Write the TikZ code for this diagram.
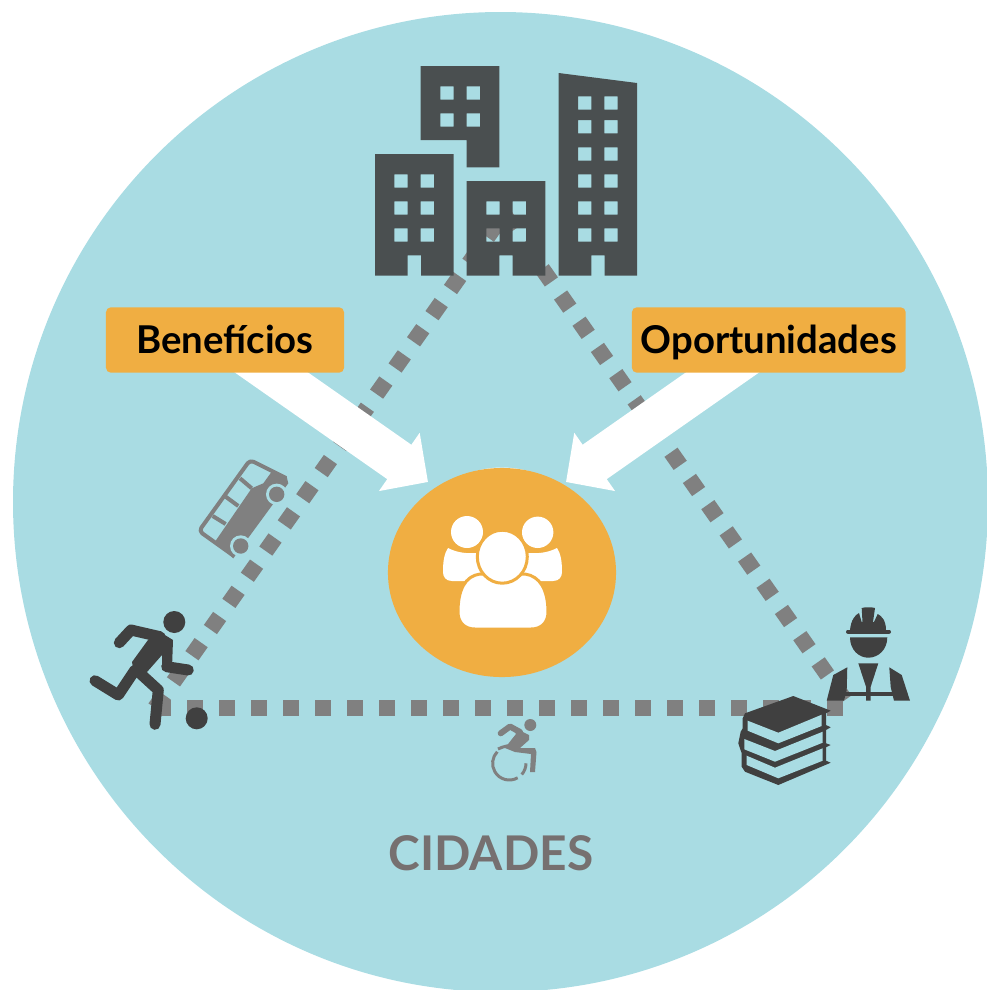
\documentclass[tikz,border=0pt]{standalone}
\usepackage{fontspec}
\setmainfont{Lato}
\usepackage{tikz}
\usetikzlibrary{arrows.meta}
\usetikzlibrary{shapes.geometric}
\pgfdeclarelayer{under}
\pgfsetlayers{under,main}
\definecolor{citybg}{HTML}{A9DCE3}
\definecolor{sand}{HTML}{F0AE42}
\definecolor{towergray}{HTML}{4A4F50}
\definecolor{icondark}{HTML}{404040}
\definecolor{routegray}{HTML}{808080}
\definecolor{titlegray}{HTML}{767070}
\tikzset{
	route/.style={draw=routegray, line width=0.16cm, dash pattern=on 0.16cm off 0.16cm},
	bigarrow/.style={draw=white, line width=0.42cm, -{Triangle[length=0.35cm,width=0.69cm,fill=white]}},
	labelbox/.style={fill=sand, rounded corners=0.05cm, minimum height=0.654cm, inner sep=0pt,
		text height=0.38cm, text depth=0.106cm,
		font=\fontsize{10.9}{13}\selectfont\bfseries, text=black},
	tower/.style={fill=towergray, even odd rule},
	limb/.style={draw=icondark, line width=0.11cm, line cap=round, line join=round},
	darkfill/.style={fill=icondark},
	grayfill/.style={fill=routegray},
	busline/.style={draw=routegray, line width=0.04cm, line join=round},
	wheelline/.style={draw=routegray, line width=0.03cm},
	pane/.style={fill=citybg},
	whitefill/.style={fill=white},
	ringed/.style={fill=white, draw=sand, line width=0.03cm},
}
\begin{document}
\begin{tikzpicture}[x=0.01cm, y=-0.01cm]
	\useasboundingbox (0,0) rectangle (987,990);
	\clip (0,0) rectangle (987,990);
	\coordinate (routeA) at (155,708);
	\coordinate (routeB) at (843,708);
	\coordinate (routeC) at (496,225);
	\coordinate (routeD) at (505.4,216.4);
	\coordinate (routeE) at (845,700);
	\coordinate (tipL) at (428,482);
	\coordinate (tipR) at (566,482);
	\node[labelbox, minimum width=2.38cm] (benefits) at (225,340) {Benefícios};
	\node[labelbox, minimum width=2.737cm] (chances) at (768.8,340) {Oportunidades};
	\node[ellipse, fill=sand, inner sep=0pt, minimum width=2.28cm, minimum height=2.09cm] (hub) at (502,572.5) {};
	\node[font=\fontsize{13.6}{17}\selectfont\bfseries, text=titlegray] (cityname) at (491,853) {CIDADES};
	\begin{pgfonlayer}{under}
		\fill[citybg] (500.5,502) ellipse [x radius=487.5, y radius=490];
		\draw[route] (routeA) -- (routeB);
		\draw[route] (routeA) -- (routeC);
		\draw[route] (routeD) -- (routeE);
		\draw[bigarrow] (benefits.center) -- (tipL);
		\draw[bigarrow] (chances.center) -- (tipR);
		\fill[white] (502,570.5) ellipse [x radius=100, y radius=103];
	\end{pgfonlayer}
	% towers
	\fill[tower] (420.7,66) -- (499.3,66) -- (499.3,167.3) -- (466.7,167.3) -- (466.7,140) -- (420.7,140) -- cycle
		\foreach \y in {86.3,113.3}{\foreach \x in {440.3,466.7}{(\x,\y) rectangle ++(13.4,13.4)}};
	\fill[tower] (375,154) -- (453.7,154) -- (453.7,275.7) -- (421,275.7) -- (421,255.3) -- (407.7,255.3) -- (407.7,275.7) -- (375,275.7) -- cycle
		\foreach \y in {174.3,201.3,228.3}{\foreach \x in {394.3,420.7}{(\x,\y) rectangle ++(13.4,13.4)}};
	\fill[tower] (466.7,181) -- (545.3,181) -- (545.3,275.7) -- (512.7,275.7) -- (512.7,255.3) -- (499.3,255.3) -- (499.3,275.7) -- (466.7,275.7) -- cycle
		\foreach \y in {201.3,228.3}{\foreach \x in {486.3,512.7}{(\x,\y) rectangle ++(13.4,13.4)}};
	\fill[tower] (558.7,73) -- (637,83) -- (637,275.7) -- (604.7,275.7) -- (604.7,255.3) -- (591.3,255.3) -- (591.3,275.7) -- (558.7,275.7) -- cycle
		\foreach \y in {96.3,120,147.3,174.3,201.3,228.3}{\foreach \x in {578,604.3}{(\x,\y) rectangle ++(13.4,13.4)}};
	% people
	\fill[whitefill] (467,532) circle [radius=16];
	\fill[whitefill] (537.7,532.3) circle [radius=15.7];
	\fill[whitefill] (448,548) .. controls (456,552) and (464,554) .. (480,553) -- (490,581) -- (452,581) .. controls (446,581) and (443,577) .. (443,572) .. controls (443,562) and (444,554) .. (448,548) -- cycle;
	\fill[whitefill] (557,548) .. controls (549,552) and (541,554) .. (525,553) -- (515,581) -- (553,581) .. controls (559,581) and (562,577) .. (562,572) .. controls (562,562) and (561,554) .. (557,548) -- cycle;
	\path[ringed] (458,612) .. controls (458,590) and (465,576) .. (480,574) -- (525,574) .. controls (540,576) and (548,590) .. (548,612) .. controls (548,623) and (541,629) .. (531,629) -- (475,629) .. controls (465,629) and (458,623) .. (458,612) -- cycle;
	\path[ringed] (502.3,556.7) ellipse [x radius=25, y radius=26.5];
	% runner
	\fill[darkfill] (174.3,622) circle [radius=11];
	\fill[darkfill] (196.7,718.3) circle [radius=11];
	\fill[darkfill] (148,640) -- (160,632) -- (173,640) -- (172,668) -- (162,668) -- (162,655) -- (147,672) -- (135,677) -- (132,662) -- cycle;
	\draw[limb] (119.3,642.7) -- (131,630) -- (160,636.7);
	\draw[limb] (166.7,666.7) -- (188.3,670);
	\draw[limb] (135,670) -- (118.3,695) -- (95,680.7);
	\draw[limb] (138.3,671.7) -- (158.3,690) -- (155,724.3);
	% bus
	\draw[busline, rounded corners=0.04cm] (286,478) -- (250,460) -- (199,531) -- (234,556);
	\draw[busline] (240,478.3) -- (251.7,488.3);
	\draw[busline] (225.7,496.7) -- (238.3,506);
	\draw[busline] (212.7,516) -- (225.7,524);
	\fill[grayfill] (271.7,471.7) -- (263.3,483.3) -- (251.7,488.3) -- (215,541.7) -- (233.3,558.3) -- (288.3,483.3) -- (286.7,476.7) -- cycle;
	\fill[pane] (276.7,494.3) circle [radius=10.7];
	\fill[pane] (240.7,546) circle [radius=10.7];
	\fill[grayfill] (276.7,494.3) circle [radius=7.7];
	\fill[grayfill] (240.7,546) circle [radius=7.7];
	% wheelchair
	\fill[grayfill] (530.3,725) circle [radius=6];
	\draw[route, dash pattern=, line width=0.06cm, line join=round, line cap=round] (500.7,733.3) -- (510,726.5) -- (520,732);
	\fill[grayfill] (511,726) -- (529,735) -- (529,740) -- (520,748) -- (535,748) -- (536.5,752) -- (535,772) -- (530,772) -- (531,754) -- (515,752) -- (505,748) -- (512,739) -- (516,734) -- cycle;
	\draw[wheelline] (509.3,763.3) ++(60:16.7) arc [start angle=60, end angle=224, radius=16.7];
	\draw[wheelline] (509.3,763.3) ++(42:16.7) arc [start angle=42, end angle=0, radius=16.7];
	\draw[wheelline] (498,749) .. controls (504,746) and (510,745) .. (516,745.5);
	% worker
	\fill[darkfill] (850,630) .. controls (851,620) and (855,615) .. (859,613) -- (861.7,622) -- (862.5,622) -- (861.7,608) .. controls (865,607) and (872,607) .. (875,608) -- (873,622) -- (874,622) -- (877.7,614) .. controls (882,616) and (886,621) .. (886,630) -- cycle;
	\draw[limb, line width=0.04cm] (848,631.5) -- (889,631.5);
	\fill[darkfill] (850,637.3) -- (887.3,637.3) .. controls (887.3,650) and (878,657.7) .. (868.3,657.7) .. controls (859,657.7) and (850,650) .. (850,637.3) -- cycle;
	\fill[darkfill] (847.3,667.3) -- (833.3,675) -- (826.7,700.7) -- (844,700.7) -- (846.7,690) -- cycle;
	\fill[darkfill] (889.3,667.3) -- (901.7,675) -- (910,700.7) -- (894,700.7) -- (890.7,687) -- cycle;
	\fill[darkfill] (858.3,663.3) -- (878.3,663.3) -- (870.7,686.7) -- (870.7,700.7) -- (866,700.7) -- (866,686.7) -- cycle;
	\fill[darkfill] (844,692) rectangle (894,696);
	% books
	\fill[darkfill] (745,713.3) -- (793.3,696) -- (830.7,710.7) -- (826,713.3) -- (826,725) -- (830.7,727.3) -- (826,730) -- (826,743.3) -- (830.7,745) -- (826,747.3) -- (826,760.7) -- (830.7,762.7) -- (778.3,785) -- (745,771.7) -- (741.7,766.7) -- (741.7,753.3) -- (738.3,743.3) -- (740.7,731.7) -- (742.7,728.3) -- (742.7,718.3) -- cycle;
	\fill[pane] (747.7,720.7) -- (778.3,732.7) -- (821.7,714.7) -- (821.7,726) -- (778.3,743.3) -- (747.7,730.7) -- cycle;
	\fill[pane] (744.3,739) -- (775,751) -- (822.7,731.7) -- (822.7,742.7) -- (775,761.7) -- (744.3,749.3) -- cycle;
	\fill[pane] (746.7,755.7) -- (775,767.7) -- (822.7,748.3) -- (822.7,760.7) -- (778.3,778.3) -- (746.7,765) -- cycle;
\end{tikzpicture}
\end{document}
